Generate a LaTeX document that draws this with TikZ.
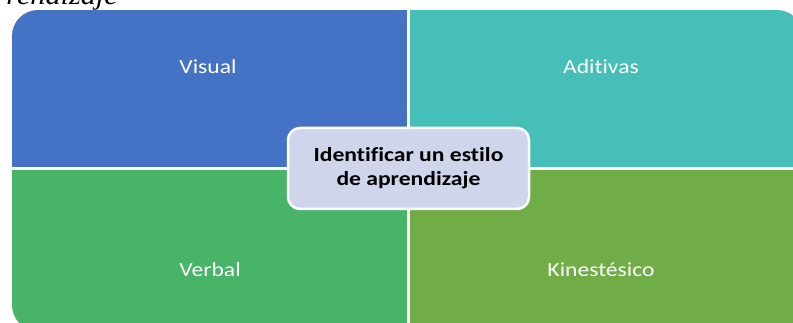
\documentclass[tikz,border=0pt]{standalone}
\usepackage{fontspec}
\setmainfont{Carlito}[Ligatures=NoCommon]
\newfontfamily\titlefont{Liberation Serif}
\definecolor{qblue}{HTML}{4472C4}
\definecolor{qteal}{HTML}{47BFB9}
\definecolor{qgreenA}{HTML}{48B467}
\definecolor{qgreenB}{HTML}{70AD47}
\definecolor{cfill}{HTML}{CFD5EA}
\tikzset{
  qlabel/.style={text=white, font=\fontsize{20}{24}\selectfont, inner sep=0pt, anchor=base},
  centerbox/.style={fill=cfill, draw=white, line width=2.5pt, rounded corners=12pt},
}
\begin{document}
\begin{tikzpicture}[x=1pt,y=-1pt]
\useasboundingbox (0,0) rectangle (793,323);
\begin{scope}
  \clip (0,0) rectangle (793,323);
  \node[anchor=base east, inner sep=0pt, font=\titlefont\itshape\fontsize{27}{30}\selectfont] (title) at (118,5) {\scalebox{1.12}[1]{rendizaje}};
  \begin{scope}
    \clip[rounded corners=26pt] (12,10) rectangle (803,331);
    \fill[qblue] (12,10) rectangle (407,167);
    \fill[qteal] (410,10) rectangle (803,167);
    \fill[qgreenA] (12,170) rectangle (407,331);
    \fill[qgreenB] (410,170) rectangle (803,331);
  \end{scope}
\end{scope}
\node[qlabel] (visual) at (208,74) {\scalebox{1.18}[1]{Visual}};
\node[qlabel] (aditivas) at (601,74) {\scalebox{1.18}[1]{Aditivas}};
\node[qlabel] (verbal) at (210,277) {\scalebox{1.18}[1]{Verbal}};
\node[qlabel] (kine) at (601,277) {\scalebox{1.18}[1]{Kinestésico}};
\draw[centerbox] (288,128) rectangle (529,209);
\node[font=\bfseries\fontsize{20}{24}\selectfont, align=center, inner sep=0pt] (center) at (408.5,168)
  {\scalebox{1.18}[1]{Identificar un estilo}\\\scalebox{1.18}[1]{de aprendizaje}};
\end{tikzpicture}
\end{document}
